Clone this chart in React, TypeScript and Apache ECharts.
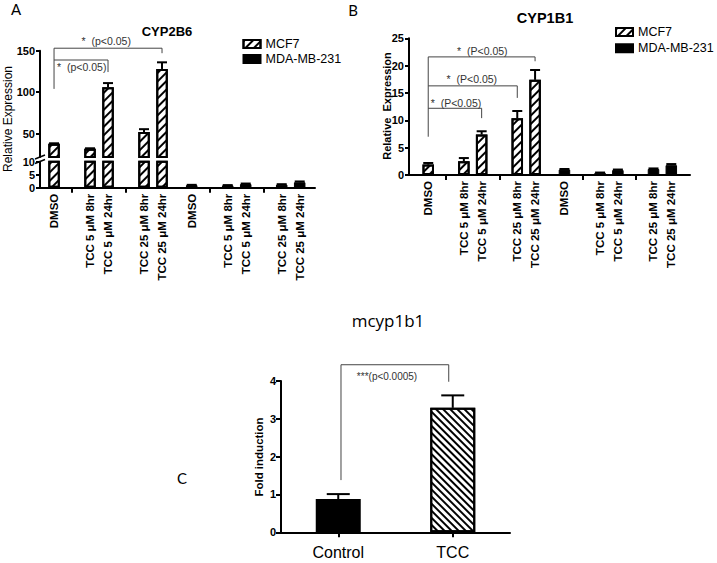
import React, { useEffect, useRef } from 'react';
import * as echarts from 'echarts';

// ---------- data ----------
const treatmentLabels = ['DMSO', 'TCC 5 μM 8hr', 'TCC 5 μM 24hr', 'TCC 25 μM 8hr', 'TCC 25 μM 24hr'];
const cellLines = ['MCF7', 'MDA-MB-231'];

// Panel A: CYP2B6 relative expression
const cyp2b6MCF7 = [38, 32, 106, 52, 128];
const cyp2b6MCF7Err = [0.5, 0.5, 5, 3.5, 8];
const cyp2b6MDA = [1.0, 0.9, 1.4, 1.2, 2.1];
const cyp2b6MDAErr = [0.1, 0.1, 0.2, 0.15, 0.3];
const cyp2b6UpperTicks = [50, 100, 150];

// Panel B: CYP1B1 relative expression
const cyp1b1MCF7 = [1.9, 2.5, 7.4, 10.4, 17.4];
const cyp1b1MCF7Err = [0.3, 0.6, 0.6, 1.3, 1.8];
const cyp1b1MDA = [1.0, 0.4, 0.9, 1.1, 1.8];
const cyp1b1MDAErr = [0.1, 0.05, 0.1, 0.1, 0.2];

// Panel C: mcyp1b1 fold induction
const mCategories = ['Control', 'TCC'];
const mValues = [0.88, 3.29];
const mErr = [0.13, 0.33];

// ---------- layout (slot positions on the x axis) ----------
const mcfSlots = [0, 2, 3, 5, 6];
const mdaSlots = [7.65, 9.65, 10.65, 12.65, 13.65];
const separatorSlots = [1, 4, 8.65, 11.65];
const allSlots = [...mcfSlots, ...mdaSlots];
const allLabels = [...treatmentLabels, ...treatmentLabels];

// significance annotations (data units)
const sigA = [
  { from: 0, to: 6, y: 153, leftEnd: 104, rightEnd: 147, text: '*  (p<0.05)', textX: 2.9, textY: 162 },
  { from: 0, to: 3, y: 138.8, leftEnd: 138.8, rightEnd: 124.3, text: '*  (p<0.05)', textX: 1.54, textY: 130.7 },
];
const sigB = [
  { from: 0, to: 6, y: 21.6, leftEnd: 7.0, rightEnd: 20.8, text: '*  (P<0.05)', textX: 3.04, textY: 22.7 },
  { from: 0, to: 5, y: 16.3, leftEnd: 16.3, rightEnd: 14.1, text: '*  (P<0.05)', textX: 2.45, textY: 17.55 },
  { from: 0, to: 3, y: 12.2, leftEnd: 12.2, rightEnd: 10.4, text: '*  (P<0.05)', textX: 1.56, textY: 13.1 },
];
const sigC = [
  { from: 0.024, to: 0.965, y: 4.43, leftEnd: 1.38, rightEnd: 3.98, text: '***(p<0.0005)', textX: 0.426, textY: 4.12 },
];

const FONT = "'Liberation Sans', Arial, Helvetica, sans-serif";

const hatchMCF7 = {
  symbol: 'rect',
  symbolSize: 1,
  color: '#000',
  dashArrayX: [1, 0],
  dashArrayY: [1.8, 4],
  rotation: -Math.PI / 4,
};
const hatchTCC = {
  symbol: 'rect',
  symbolSize: 1,
  color: '#000',
  dashArrayX: [1, 0],
  dashArrayY: [1.3, 3],
  rotation: Math.PI / 4,
};

const mcfStyle = { color: '#fff', borderColor: '#000', borderWidth: 2, decal: hatchMCF7 };
const mdaStyle = { color: '#000', borderColor: '#000', borderWidth: 1 };

function errorSeries(xIdx: number, yIdx: number, positions: number[], values: number[], errs: number[], half: number, lw: number) {
  return {
    type: 'custom',
    xAxisIndex: xIdx,
    yAxisIndex: yIdx,
    silent: true,
    z: 3,
    encode: { x: 0, y: [1, 2] },
    data: positions.map((p, i) => [p, values[i], values[i] + errs[i]]),
    renderItem: (params: any, api: any) => {
      const x = api.value(0);
      const lo = api.coord([x, api.value(1)]);
      const hi = api.coord([x, api.value(2)]);
      return {
        type: 'group',
        children: [
          { type: 'line', shape: { x1: lo[0], y1: lo[1], x2: hi[0], y2: hi[1] }, style: { stroke: '#000', lineWidth: lw } },
          { type: 'line', shape: { x1: hi[0] - half, y1: hi[1], x2: hi[0] + half, y2: hi[1] }, style: { stroke: '#000', lineWidth: lw } },
        ],
      };
    },
  };
}

function bracketSeries(xIdx: number, yIdx: number, items: any[], fontSize: number) {
  return {
    type: 'custom',
    xAxisIndex: xIdx,
    yAxisIndex: yIdx,
    silent: true,
    clip: false,
    z: 4,
    encode: { x: [0, 1], y: 2 },
    data: items.map((b) => [b.from, b.to, b.y]),
    renderItem: (params: any, api: any) => {
      const b = items[params.dataIndex];
      const pL = api.coord([b.from, b.y]);
      const pR = api.coord([b.to, b.y]);
      const yl = api.coord([b.from, b.leftEnd])[1];
      const yr = api.coord([b.to, b.rightEnd])[1];
      const t = api.coord([b.textX, b.textY]);
      return {
        type: 'group',
        children: [
          {
            type: 'polyline',
            shape: { points: [[pL[0], yl], [pL[0], pL[1]], [pR[0], pR[1]], [pR[0], yr]] },
            style: { stroke: '#444', lineWidth: 1, fill: null },
          },
          {
            type: 'text',
            x: t[0],
            y: t[1],
            style: { text: b.text, fill: '#333', font: `${fontSize}px ${FONT}`, align: 'center', verticalAlign: 'middle' },
          },
        ],
      };
    },
  };
}

const axisLineStyle = { show: true, onZero: false, lineStyle: { color: '#000', width: 2 } };
const tickLabel = { fontFamily: FONT, fontWeight: 'bold', fontSize: 11, color: '#000' };

function slotXAxis(gridIndex: number, min: number, max: number, showLabels: boolean) {
  return {
    type: 'value',
    gridIndex,
    min,
    max,
    show: showLabels,
    axisLine: axisLineStyle,
    splitLine: { show: false },
    axisTick: { show: true, length: 5, lineStyle: { color: '#000', width: 2 }, customValues: separatorSlots },
    axisLabel: {
      ...tickLabel,
      fontSize: 11.5,
      rotate: 90,
      margin: 6,
      customValues: allSlots,
      formatter: (v: number) => {
        const i = allSlots.findIndex((s) => Math.abs(s - v) < 1e-6);
        return i >= 0 ? allLabels[i] : '';
      },
    },
  };
}

export default function App() {
  const ref = useRef<HTMLDivElement>(null);
  useEffect(() => {
    if (!ref.current) return;
    const chart = echarts.init(ref.current, null, { renderer: 'svg' });
    const option: any = {
      animation: false,
      backgroundColor: '#fff',
      grid: [
        { left: 40, top: 50.7, width: 275, height: 106.3, outerBoundsMode: 'none', containLabel: false },
        { left: 40, top: 161.7, width: 275, height: 26, outerBoundsMode: 'none', containLabel: false },
        { left: 409, top: 38.3, width: 281, height: 136.7, outerBoundsMode: 'none', containLabel: false },
        { left: 281, top: 381, width: 229, height: 151.3, outerBoundsMode: 'none', containLabel: false },
      ],
      xAxis: [
        slotXAxis(0, -0.78, 14.5, false),
        slotXAxis(1, -0.78, 14.5, true),
        slotXAxis(2, -1.08, 14.7, true),
        {
          type: 'value',
          gridIndex: 3,
          min: -0.5,
          max: 1.5,
          axisLine: axisLineStyle,
          splitLine: { show: false },
          axisTick: { show: true, length: 5, lineStyle: { color: '#000', width: 2 }, customValues: [0, 1] },
          axisLabel: {
            fontFamily: FONT,
            fontSize: 16,
            color: '#000',
            margin: 12,
            customValues: [0, 1],
            formatter: (v: number) => mCategories[Math.round(v)] ?? '',
          },
        },
      ],
      yAxis: [
        {
          type: 'value',
          gridIndex: 0,
          min: 22,
          max: 150,
          axisLine: axisLineStyle,
          splitLine: { show: false },
          axisTick: { show: true, length: 4, lineStyle: { color: '#000', width: 2 }, customValues: cyp2b6UpperTicks },
          axisLabel: { ...tickLabel, margin: 5, customValues: cyp2b6UpperTicks },
        },
        {
          type: 'value',
          gridIndex: 1,
          min: 0,
          max: 10,
          interval: 5,
          axisLine: axisLineStyle,
          splitLine: { show: false },
          axisTick: { show: true, length: 4, lineStyle: { color: '#000', width: 2 } },
          axisLabel: { ...tickLabel, margin: 5 },
        },
        {
          type: 'value',
          gridIndex: 2,
          min: 0,
          max: 25,
          interval: 5,
          axisLine: axisLineStyle,
          splitLine: { show: false },
          axisTick: { show: true, length: 4, lineStyle: { color: '#000', width: 2 } },
          axisLabel: { ...tickLabel, margin: 5 },
        },
        {
          type: 'value',
          gridIndex: 3,
          min: 0,
          max: 4,
          interval: 1,
          axisLine: axisLineStyle,
          splitLine: { show: false },
          axisTick: { show: true, length: 5, lineStyle: { color: '#000', width: 2 } },
          axisLabel: { ...tickLabel, margin: 5 },
        },
      ],
      legend: [
        {
          data: cellLines,
          left: 242.5,
          top: 36.5,
          orient: 'vertical',
          icon: 'rect',
          itemWidth: 17,
          itemHeight: 8,
          itemGap: 0,
          selectedMode: false,
          padding: 0,
          textStyle: { fontFamily: FONT, fontSize: 12.5, color: '#000', lineHeight: 15 },
        },
        {
          data: cellLines,
          left: 615,
          top: 24.5,
          orient: 'vertical',
          icon: 'rect',
          itemWidth: 17,
          itemHeight: 8,
          itemGap: 1.3,
          selectedMode: false,
          padding: 0,
          textStyle: { fontFamily: FONT, fontSize: 12.5, color: '#000', lineHeight: 15 },
        },
      ],
      series: [
        // Panel A upper (break) segment
        {
          type: 'bar', name: cellLines[0], xAxisIndex: 0, yAxisIndex: 0, barWidth: 11.5, barGap: '-100%',
          itemStyle: mcfStyle, data: mcfSlots.map((p, i) => [p, cyp2b6MCF7[i]]),
        },
        errorSeries(0, 0, mcfSlots, cyp2b6MCF7, cyp2b6MCF7Err, 5, 2),
        bracketSeries(0, 0, sigA, 10.5),
        // Panel A lower segment
        {
          type: 'bar', name: cellLines[0], xAxisIndex: 1, yAxisIndex: 1, barWidth: 11.5, barGap: '-100%',
          itemStyle: mcfStyle, data: mcfSlots.map((p, i) => [p, cyp2b6MCF7[i]]),
        },
        {
          type: 'bar', name: cellLines[1], xAxisIndex: 1, yAxisIndex: 1, barWidth: 11.5, barGap: '-100%',
          itemStyle: mdaStyle, data: mdaSlots.map((p, i) => [p, cyp2b6MDA[i]]),
        },
        errorSeries(1, 1, mdaSlots, cyp2b6MDA, cyp2b6MDAErr, 5, 2),
        // Panel B
        {
          type: 'bar', name: cellLines[0], xAxisIndex: 2, yAxisIndex: 2, barWidth: 11.5, barGap: '-100%',
          itemStyle: mcfStyle, data: mcfSlots.map((p, i) => [p, cyp1b1MCF7[i]]),
        },
        {
          type: 'bar', name: cellLines[1], xAxisIndex: 2, yAxisIndex: 2, barWidth: 11.5, barGap: '-100%',
          itemStyle: mdaStyle, data: mdaSlots.map((p, i) => [p, cyp1b1MDA[i]]),
        },
        errorSeries(2, 2, mcfSlots, cyp1b1MCF7, cyp1b1MCF7Err, 5, 2),
        errorSeries(2, 2, mdaSlots, cyp1b1MDA, cyp1b1MDAErr, 5, 2),
        bracketSeries(2, 2, sigB, 10.5),
        // Panel C
        {
          type: 'bar', name: 'mcyp1b1', xAxisIndex: 3, yAxisIndex: 3, barWidth: 45, barGap: '-100%',
          data: mValues.map((v, i) => ({
            value: [i, v],
            itemStyle: i === 0
              ? { color: '#000', borderColor: '#000', borderWidth: 2 }
              : { color: '#fff', borderColor: '#000', borderWidth: 2, decal: hatchTCC },
          })),
        },
        errorSeries(3, 3, [0, 1], mValues, mErr, 11.5, 2),
        bracketSeries(3, 3, sigC, 10),
      ],
      graphic: [
        { type: 'text', x: 16, y: 9, style: { text: 'A', font: "15px Lato, 'Open Sans', sans-serif", fill: '#000', align: 'center', verticalAlign: 'middle' } },
        { type: 'text', x: 353, y: 10, style: { text: 'B', font: "15px Lato, 'Open Sans', sans-serif", fill: '#000', align: 'center', verticalAlign: 'middle' } },
        { type: 'text', x: 182, y: 478, style: { text: 'C', font: "15px Lato, 'Open Sans', sans-serif", fill: '#000', align: 'center', verticalAlign: 'middle' } },
        { type: 'text', x: 167, y: 31, style: { text: 'CYP2B6', font: `bold 13px ${FONT}`, fill: '#000', align: 'center', verticalAlign: 'middle' } },
        { type: 'text', x: 545, y: 18, style: { text: 'CYP1B1', font: `bold 14.5px ${FONT}`, fill: '#000', align: 'center', verticalAlign: 'middle' } },
        { type: 'text', x: 388, y: 320, style: { text: 'mcyp1b1', font: "17px 'Open Sans', Lato, sans-serif", fill: '#000', align: 'center', verticalAlign: 'middle' } },
        { type: 'text', x: 8, y: 119, rotation: Math.PI / 2, style: { text: 'Relative Expression', font: `12px ${FONT}`, fill: '#000', align: 'center', verticalAlign: 'middle' } },
        { type: 'text', x: 387, y: 106, rotation: Math.PI / 2, style: { text: 'Relative  Expression', font: `bold 11px ${FONT}`, fill: '#000', align: 'center', verticalAlign: 'middle' } },
        { type: 'text', x: 259, y: 457, rotation: Math.PI / 2, style: { text: 'Fold induction', font: `bold 11.5px ${FONT}`, fill: '#000', align: 'center', verticalAlign: 'middle' } },
        { type: 'line', shape: { x1: 35, y1: 159, x2: 45, y2: 155 }, style: { stroke: '#000', lineWidth: 1.5 } },
        { type: 'line', shape: { x1: 35, y1: 163.5, x2: 45, y2: 159.5 }, style: { stroke: '#000', lineWidth: 1.5 } },
      ],
    };
    chart.setOption(option);
    return () => chart.dispose();
  }, []);
  return <div ref={ref} style={{ position: 'fixed', left: 0, top: 0, width: 717, height: 563, background: '#fff' }} />;
}
